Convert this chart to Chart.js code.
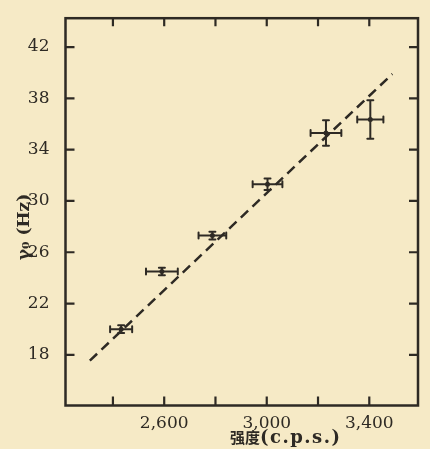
<!DOCTYPE html>
<html lang="zh">
<head>
<meta charset="UTF-8">
<title>γ₀ 与强度</title>
<script src="https://cdn.jsdelivr.net/npm/chart.js"></script>
<style>
    body {
        margin: 0;
        background: #f6eac6;
    }
    #wrap {
        width: 430px;
        height: 449px;
        position: relative;
    }
</style>
</head>
<body>
<div id="wrap"><canvas id="c"></canvas></div>
<script>
    // values
    const xTicks = [2400, 2600, 2800, 3000, 3200, 3400];
    const xLabels = [2600, 3000, 3400];
    const yTicks = [18, 22, 26, 30, 34, 38, 42];
    const intensity = [2432, 2591, 2788, 3003, 3231, 3404];
    const intensityErr = [43, 62, 54, 58, 60, 51];
    const gamma = [20.0, 24.5, 27.3, 31.3, 35.3, 36.35];
    const gammaErr = [0.3, 0.3, 0.3, 0.45, 1.0, 1.5];
    const fitX = [2310, 3490];
    const fitY = [17.55, 39.9];

    const ink = "#2e2a24";

    // frame, inward ticks, error bars, axis titles
    const extras = {
        id: "extras",
        afterDatasetsDraw(chart) {
            const { ctx, chartArea: a, scales: { x, y } } = chart;
            ctx.save();
            ctx.strokeStyle = ink;
            ctx.fillStyle = ink;
            ctx.lineCap = "round";

            // error bars
            ctx.lineWidth = 2;
            intensity.forEach((v, i) => {
                const px = x.getPixelForValue(v);
                const py = y.getPixelForValue(gamma[i]);
                const x0 = x.getPixelForValue(v - intensityErr[i]);
                const x1 = x.getPixelForValue(v + intensityErr[i]);
                const y0 = y.getPixelForValue(gamma[i] - gammaErr[i]);
                const y1 = y.getPixelForValue(gamma[i] + gammaErr[i]);
                ctx.beginPath();
                ctx.moveTo(x0, py); ctx.lineTo(x1, py);
                ctx.moveTo(x0, py - 3); ctx.lineTo(x0, py + 3);
                ctx.moveTo(x1, py - 3); ctx.lineTo(x1, py + 3);
                ctx.moveTo(px, y0); ctx.lineTo(px, y1);
                ctx.moveTo(px - 3, y0); ctx.lineTo(px + 3, y0);
                ctx.moveTo(px - 3, y1); ctx.lineTo(px + 3, y1);
                ctx.stroke();
            });

            // frame
            ctx.lineWidth = 2.5;
            ctx.lineCap = "butt";
            ctx.strokeRect(a.left, a.top, a.right - a.left, a.bottom - a.top);

            // ticks pointing inward on all four sides
            ctx.lineWidth = 2.2;
            ctx.beginPath();
            xTicks.forEach(t => {
                const px = x.getPixelForValue(t);
                ctx.moveTo(px, a.bottom); ctx.lineTo(px, a.bottom - 9);
                ctx.moveTo(px, a.top); ctx.lineTo(px, a.top + 8);
            });
            yTicks.forEach(t => {
                const py = y.getPixelForValue(t);
                ctx.moveTo(a.left, py); ctx.lineTo(a.left + 9, py);
                ctx.moveTo(a.right, py); ctx.lineTo(a.right - 9, py);
            });
            ctx.stroke();

            // axis titles
            ctx.textBaseline = "alphabetic";
            ctx.font = "bold 15px 'Noto Sans CJK SC'";
            ctx.textAlign = "right";
            ctx.fillText("强度", 260, 443);
            ctx.font = "bold 18px 'DejaVu Serif'";
            ctx.letterSpacing = "1.5px";
            ctx.textAlign = "left";
            ctx.fillText("(c.p.s.)", 260, 443);
            ctx.letterSpacing = "0px";

            ctx.translate(25, 227);
            ctx.rotate(-Math.PI / 2);
            ctx.textAlign = "center";
            ctx.textBaseline = "middle";
            ctx.font = "bold 17px 'DejaVu Serif'";
            ctx.fillText("γ₀ (Hz)", 0, 0);
            ctx.restore();
        }
    };

    new Chart(document.getElementById("c"), {
        type: "scatter",
        data: {
            datasets: [{
                label: "γ₀",
                data: intensity.map((v, i) => ({ x: v, y: gamma[i] })),
                pointRadius: 2.5,
                pointBackgroundColor: ink,
                pointBorderWidth: 0
            }, {
                label: "fit",
                type: "line",
                data: fitX.map((v, i) => ({ x: v, y: fitY[i] })),
                borderColor: ink,
                borderWidth: 2.5,
                borderDash: [10, 6],
                pointRadius: 0,
                fill: false
            }]
        },
        options: {
            responsive: true,
            maintainAspectRatio: false,
            animation: false,
            layout: { padding: { top: 15.5, right: 12, left: 0, bottom: 0 } },
            plugins: {
                legend: { display: false },
                tooltip: { enabled: false }
            },
            scales: {
                x: {
                    type: "linear",
                    min: 2215,
                    max: 3590,
                    grid: { display: false },
                    border: { display: false },
                    afterBuildTicks: s => { s.ticks = xTicks.map(v => ({ value: v })); },
                    afterFit: s => { s.height = 43.5; },
                    ticks: {
                        autoSkip: false,
                        maxRotation: 0,
                        padding: 0,
                        color: ink,
                        font: { family: "'DejaVu Serif'", size: 17 },
                        callback: v => xLabels.includes(v) ? v.toLocaleString("en-US") : ""
                    }
                },
                y: {
                    min: 14.05,
                    max: 44.25,
                    grid: { display: false },
                    border: { display: false },
                    afterBuildTicks: s => { s.ticks = yTicks.map(v => ({ value: v })); },
                    afterFit: s => { s.width = 65.5; },
                    ticks: {
                        padding: 8,
                        color: ink,
                        font: { family: "'DejaVu Serif'", size: 17 }
                    }
                }
            }
        },
        plugins: [extras]
    });
</script>
</body>
</html>
